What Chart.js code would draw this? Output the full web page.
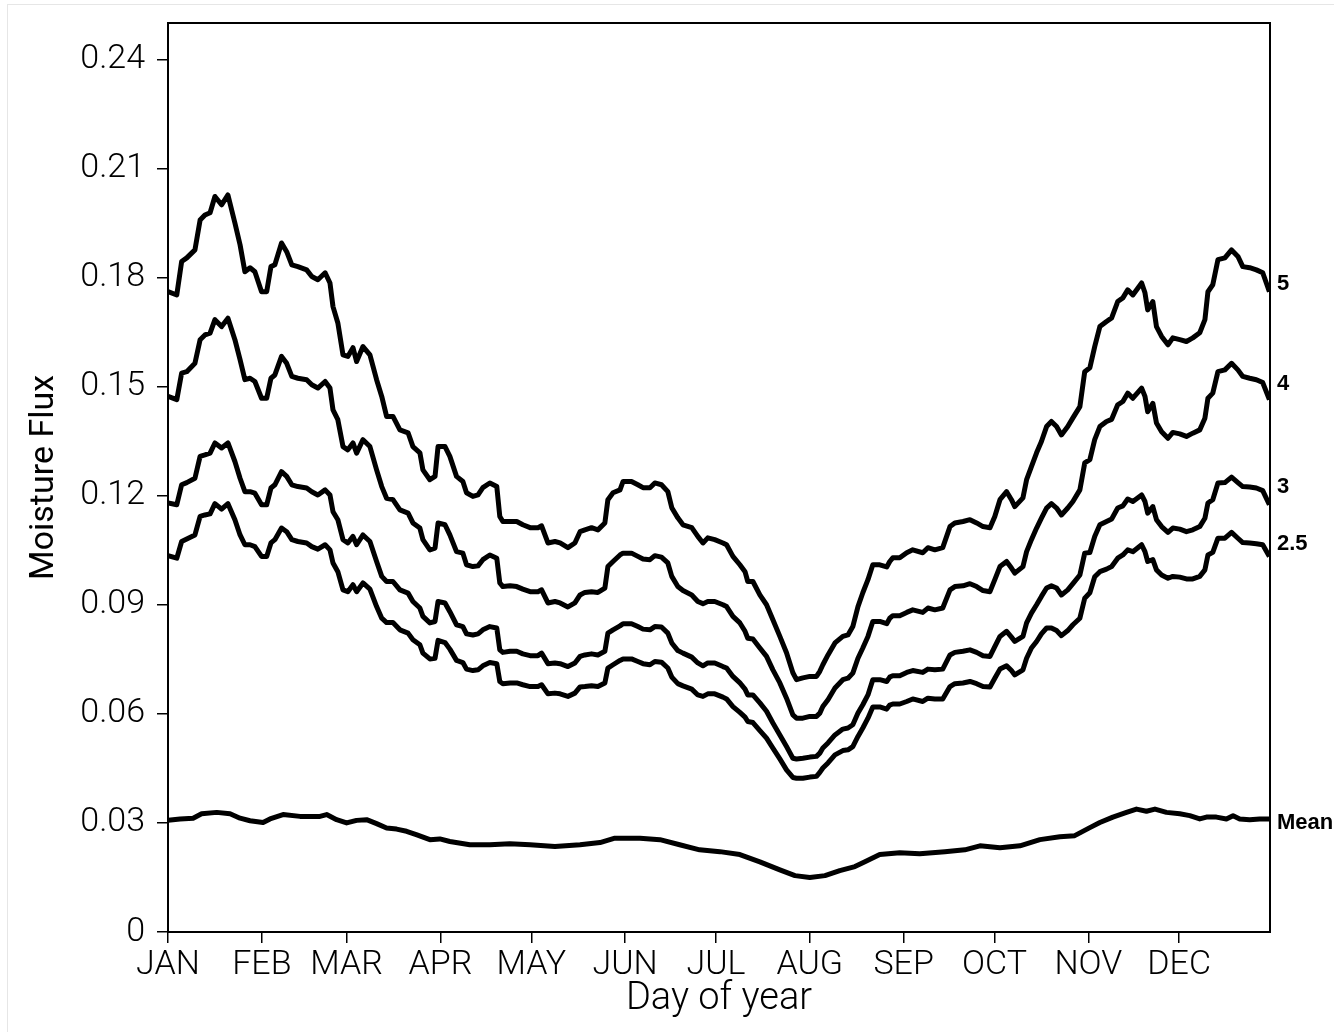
<!DOCTYPE html>
<html><head><meta charset="utf-8">
<script src="https://cdn.jsdelivr.net/npm/chart.js@4.4.1/dist/chart.umd.min.js"></script>
<style>
html,body{margin:0;padding:0;background:#fff;}
#wrap{position:relative;width:1334px;height:1032px;overflow:hidden;background:#fff;}
#frame{position:absolute;left:7px;top:4px;width:1340px;height:1040px;border-left:1px solid #e6e6e6;border-top:1px solid #e6e6e6;}
canvas{position:absolute;left:0;top:0;}
</style></head><body>
<div id="wrap"><div id="frame"></div><canvas id="c" width="1334" height="1032"></canvas></div>
<script>
// Day-of-year sample positions shared by the four upper series
const days = [1,3.9,5.5,7.2,9.9,11.6,13.2,14.9,16.5,18.7,
20.8,23.1,24.8,26.4,28.1,29.7,31.9,33.6,35.0,36.3,
38.5,40.2,41.9,43.9,46.8,48.5,50.5,52.9,54.5,55.5,
57.1,58.8,60.4,62.1,63.3,65.4,67.7,69.9,71.6,73.2,
75.3,77.6,80.3,81.9,84.2,85.2,87.5,89.2,90.2,92.5,
94.1,96.3,98.4,99.6,101.7,103.4,105.0,107.3,109.6,110.6,
111.6,114.0,116.2,118.2,120.6,123.2,124.4,126.5,128.8,130.5,
133.1,135.4,137.1,138.7,140.9,143.0,145.3,146.3,148.0,150.3,
151.3,154.1,156.2,157.9,160.2,161.8,164.0,166.1,167.4,169.4,
171.1,174.0,176.0,177.7,179.3,181.6,184.3,185.5,187.6,189.9,
191.6,192.5,194.2,196.5,198.7,200.8,203.1,205.3,207.4,208.6,
210.7,213.0,215.2,216.3,217.3,219.0,221.3,223.9,225.6,227.2,
228.9,230.5,232.2,233.8,236.1,238.4,239.4,240.4,242.7,245.0,
247.0,250.3,252.0,254.3,256.9,259.3,260.9,263.6,265.9,268.1,
270.2,272.5,274.1,275.8,278.0,279.6,280.7,283.4,284.6,286.2,
287.9,289.5,291.2,292.8,294.5,296.1,298.2,299.9,302.2,303.8,
305.5,307.1,308.8,311.0,312.7,314.7,316.4,318.0,319.7,322.6,
323.7,324.6,326.3,327.5,329.2,331.3,332.9,335.2,337.4,339.5,
341.8,343.5,344.5,346.1,347.8,350.1,352.3,354.4,356.0,358.3,
360.5,362.6,364.8];

const s5 = [0.1761,0.1752,0.1844,0.1854,0.1876,0.1958,0.1972,0.1978,0.2023,0.2000,
0.2027,0.1950,0.1890,0.1816,0.1827,0.1816,0.1761,0.1761,0.1830,0.1835,
0.1895,0.1871,0.1835,0.1830,0.1821,0.1803,0.1794,0.1813,0.1785,0.1720,
0.1675,0.1587,0.1583,0.1607,0.1569,0.1610,0.1587,0.1519,0.1473,0.1418,
0.1418,0.1381,0.1373,0.1335,0.1318,0.1271,0.1244,0.1253,0.1335,0.1335,
0.1308,0.1253,0.1239,0.1208,0.1198,0.1202,0.1222,0.1235,0.1225,0.1143,
0.1129,0.1129,0.1129,0.1120,0.1112,0.1112,0.1117,0.1070,0.1074,0.1070,
0.1057,0.1070,0.1101,0.1106,0.1112,0.1106,0.1125,0.1189,0.1208,0.1216,
0.1239,0.1239,0.1230,0.1222,0.1222,0.1235,0.1230,0.1211,0.1167,0.1139,
0.1120,0.1112,0.1088,0.1070,0.1084,0.1079,0.1070,0.1065,0.1033,0.1010,
0.0991,0.0964,0.0964,0.0927,0.0900,0.0859,0.0813,0.0768,0.0713,0.0694,
0.0699,0.0703,0.0703,0.0717,0.0735,0.0762,0.0795,0.0813,0.0817,0.0840,
0.0895,0.0933,0.0969,0.1010,0.1010,0.1004,0.1019,0.1029,0.1029,0.1043,
0.1051,0.1043,0.1057,0.1051,0.1057,0.1115,0.1125,0.1129,0.1134,0.1125,
0.1115,0.1112,0.1143,0.1189,0.1211,0.1189,0.1170,0.1194,0.1244,0.1280,
0.1318,0.1349,0.1390,0.1404,0.1390,0.1367,0.1390,0.1414,0.1445,0.1541,
0.1552,0.1610,0.1665,0.1679,0.1689,0.1734,0.1744,0.1766,0.1752,0.1785,
0.1758,0.1711,0.1734,0.1665,0.1638,0.1615,0.1634,0.1629,0.1624,0.1634,
0.1648,0.1684,0.1761,0.1780,0.1849,0.1854,0.1876,0.1858,0.1830,0.1827,
0.1821,0.1813,0.1761];

const s4 = [0.1473,0.1464,0.1537,0.1541,0.1564,0.1629,0.1642,0.1647,0.1684,0.1665,
0.1688,0.1629,0.1574,0.1519,0.1523,0.1514,0.1468,0.1468,0.1523,0.1532,
0.1583,0.1564,0.1528,0.1523,0.1519,0.1505,0.1496,0.1514,0.1496,0.1436,
0.1409,0.1335,0.1326,0.1345,0.1317,0.1354,0.1335,0.1271,0.1225,0.1193,
0.1189,0.1161,0.1152,0.1125,0.1111,0.1079,0.1051,0.1056,0.1125,0.1120,
0.1092,0.1046,0.1042,0.1010,0.1005,0.1007,0.1024,0.1037,0.1028,0.0960,
0.0950,0.0952,0.0950,0.0943,0.0936,0.0936,0.0941,0.0905,0.0909,0.0905,
0.0894,0.0905,0.0927,0.0934,0.0936,0.0934,0.0946,0.1005,0.1019,0.1037,
0.1042,0.1042,0.1033,0.1026,0.1024,0.1035,0.1031,0.1015,0.0978,0.0950,
0.0939,0.0927,0.0909,0.0903,0.0909,0.0909,0.0900,0.0895,0.0868,0.0850,
0.0827,0.0808,0.0806,0.0781,0.0758,0.0721,0.0685,0.0643,0.0597,0.0588,
0.0588,0.0593,0.0593,0.0602,0.0620,0.0639,0.0671,0.0694,0.0698,0.0712,
0.0753,0.0781,0.0813,0.0854,0.0854,0.0848,0.0863,0.0870,0.0870,0.0879,
0.0886,0.0879,0.0891,0.0886,0.0891,0.0941,0.0950,0.0952,0.0958,0.0950,
0.0939,0.0936,0.0969,0.1005,0.1019,0.1001,0.0987,0.1005,0.1046,0.1079,
0.1111,0.1138,0.1166,0.1178,0.1166,0.1147,0.1166,0.1184,0.1216,0.1290,
0.1299,0.1354,0.1390,0.1404,0.1410,0.1450,0.1459,0.1482,0.1468,0.1496,
0.1473,0.1431,0.1454,0.1400,0.1376,0.1358,0.1374,0.1370,0.1363,0.1372,
0.1381,0.1413,0.1468,0.1482,0.1541,0.1546,0.1564,0.1546,0.1528,0.1523,
0.1519,0.1511,0.1464];

const s3 = [0.1180,0.1175,0.1230,0.1236,0.1248,0.1308,0.1312,0.1317,0.1345,0.1331,
0.1345,0.1294,0.1248,0.1211,0.1211,0.1207,0.1175,0.1175,0.1221,0.1230,
0.1266,0.1253,0.1230,0.1225,0.1221,0.1211,0.1202,0.1216,0.1202,0.1156,
0.1134,0.1079,0.1070,0.1088,0.1065,0.1092,0.1074,0.1019,0.0978,0.0964,
0.0964,0.0941,0.0932,0.0909,0.0891,0.0868,0.0850,0.0854,0.0909,0.0905,
0.0881,0.0845,0.0840,0.0820,0.0817,0.0820,0.0831,0.0840,0.0836,0.0776,
0.0769,0.0772,0.0772,0.0765,0.0760,0.0760,0.0767,0.0738,0.0740,0.0738,
0.0730,0.0740,0.0758,0.0762,0.0765,0.0762,0.0772,0.0822,0.0831,0.0842,
0.0848,0.0848,0.0840,0.0833,0.0831,0.0840,0.0839,0.0822,0.0795,0.0774,
0.0767,0.0756,0.0740,0.0732,0.0740,0.0740,0.0730,0.0726,0.0703,0.0685,
0.0668,0.0652,0.0652,0.0630,0.0607,0.0575,0.0542,0.0510,0.0478,0.0476,
0.0478,0.0481,0.0483,0.0492,0.0506,0.0520,0.0542,0.0558,0.0561,0.0570,
0.0602,0.0625,0.0652,0.0694,0.0694,0.0689,0.0701,0.0705,0.0705,0.0714,
0.0719,0.0714,0.0723,0.0721,0.0723,0.0762,0.0769,0.0772,0.0776,0.0769,
0.0760,0.0758,0.0785,0.0813,0.0827,0.0811,0.0799,0.0813,0.0850,0.0877,
0.0900,0.0923,0.0946,0.0952,0.0946,0.0927,0.0941,0.0958,0.0982,0.1042,
0.1044,0.1088,0.1120,0.1129,0.1136,0.1166,0.1172,0.1191,0.1184,0.1202,
0.1184,0.1152,0.1170,0.1134,0.1115,0.1099,0.1111,0.1108,0.1101,0.1106,
0.1115,0.1138,0.1180,0.1189,0.1235,0.1236,0.1251,0.1236,0.1225,0.1224,
0.1221,0.1214,0.1175];

const s25 = [0.1035,0.1028,0.1074,0.1081,0.1092,0.1143,0.1147,0.1150,0.1178,0.1163,
0.1178,0.1134,0.1092,0.1065,0.1065,0.1060,0.1033,0.1033,0.1070,0.1079,
0.1111,0.1101,0.1079,0.1074,0.1070,0.1060,0.1053,0.1065,0.1051,0.1015,
0.0991,0.0941,0.0936,0.0955,0.0936,0.0960,0.0943,0.0895,0.0863,0.0851,
0.0851,0.0831,0.0822,0.0804,0.0790,0.0767,0.0751,0.0753,0.0802,0.0796,
0.0778,0.0747,0.0741,0.0723,0.0719,0.0721,0.0732,0.0741,0.0738,0.0689,
0.0683,0.0685,0.0685,0.0680,0.0675,0.0675,0.0680,0.0655,0.0657,0.0655,
0.0648,0.0657,0.0674,0.0675,0.0677,0.0675,0.0685,0.0726,0.0735,0.0747,
0.0751,0.0751,0.0744,0.0738,0.0735,0.0744,0.0742,0.0726,0.0701,0.0683,
0.0677,0.0668,0.0652,0.0648,0.0655,0.0655,0.0646,0.0641,0.0620,0.0604,
0.0591,0.0579,0.0576,0.0554,0.0533,0.0506,0.0476,0.0446,0.0425,0.0423,
0.0423,0.0426,0.0428,0.0439,0.0451,0.0465,0.0487,0.0499,0.0501,0.0510,
0.0538,0.0561,0.0588,0.0619,0.0619,0.0613,0.0624,0.0627,0.0627,0.0634,
0.0641,0.0634,0.0643,0.0641,0.0641,0.0675,0.0683,0.0685,0.0689,0.0683,
0.0675,0.0674,0.0698,0.0723,0.0732,0.0719,0.0707,0.0721,0.0753,0.0781,
0.0799,0.0820,0.0836,0.0836,0.0829,0.0815,0.0829,0.0845,0.0863,0.0918,
0.0933,0.0977,0.0991,0.0998,0.1005,0.1028,0.1037,0.1051,0.1046,0.1065,
0.1046,0.1019,0.1024,0.0996,0.0982,0.0973,0.0978,0.0976,0.0971,0.0971,
0.0978,0.0996,0.1037,0.1044,0.1083,0.1083,0.1099,0.1083,0.1071,0.1070,
0.1068,0.1065,0.1033];

const meanDays = [1,5,9.3,12.1,17.1,21.5,24.8,28.1,32.4,34.7,
39.0,44.6,51.2,53.4,56.7,60.0,63.3,66.6,69.9,73.2,
76.5,79.8,83.0,87.5,90.8,94.1,100.7,107.3,113.9,120.6,
128.8,137.1,143.7,148.6,156.9,163.5,170.0,176.6,183.3,189.9,
196.5,203.1,208.1,213.0,218.0,222.9,227.9,231.2,236.1,242.7,
249.3,257.6,264.2,269.2,275.8,282.4,289.0,295.6,300.5,305.5,
308.8,313.1,317.6,320.9,324.2,327.0,330.8,335.2,338.5,341.8,
344.0,347.3,350.6,352.8,355.0,358.3,361.6,364.8];
const meanVals = [0.0307,0.0311,0.0313,0.0325,0.0329,0.0325,0.0313,0.0306,0.0301,0.0311,
0.0323,0.0318,0.0318,0.0323,0.0309,0.0300,0.0307,0.0309,0.0298,0.0286,
0.0283,0.0277,0.0268,0.0254,0.0256,0.0249,0.0240,0.0240,0.0243,0.0240,
0.0235,0.0240,0.0246,0.0258,0.0258,0.0254,0.0240,0.0226,0.0221,0.0213,
0.0193,0.0171,0.0155,0.0150,0.0155,0.0169,0.0180,0.0193,0.0213,0.0218,
0.0215,0.0221,0.0226,0.0237,0.0232,0.0237,0.0254,0.0262,0.0265,0.0287,
0.0301,0.0316,0.0329,0.0338,0.0332,0.0338,0.0329,0.0325,0.0320,0.0311,
0.0316,0.0316,0.0311,0.0320,0.0311,0.0309,0.0311,0.0311];

const seriesNames = ['5','4','3','2.5','Mean'];
const monthDays = [1,32,60,91,121,152,182,213,244,274,305,335];
const monthLabels = ['JAN','FEB','MAR','APR','MAY','JUN','JUL','AUG','SEP','OCT','NOV','DEC'];
const yTicks = [0,0.03,0.06,0.09,0.12,0.15,0.18,0.21,0.24];

function pairs(xs, ys){ const n=Math.min(xs.length,ys.length); const out=[]; for(let i=0;i<n;i++) out.push({x:xs[i],y:ys[i]}); return out; }

const seriesData = [pairs(days,s5), pairs(days,s4), pairs(days,s3), pairs(days,s25), pairs(meanDays,meanVals)];

const framePlugin = {
  id:'frame',
  afterDraw(chart){
    const {ctx, chartArea:a} = chart;
    ctx.save(); ctx.strokeStyle='#000'; ctx.lineWidth=2;
    ctx.strokeRect(a.left, a.top, a.right-a.left, a.bottom-a.top);
    ctx.restore();
  }
};
const endLabelPlugin = {
  id:'endLabels',
  afterDatasetsDraw(chart){
    const ctx = chart.ctx;
    const offs = [-8,-16,-18,-12,4];
    ctx.save();
    ctx.font = 'bold 22px "Liberation Sans", Arial, sans-serif';
    ctx.fillStyle = '#000'; ctx.textBaseline='middle'; ctx.textAlign='left';
    chart.data.datasets.forEach((ds,i)=>{
      const meta = chart.getDatasetMeta(i);
      const last = meta.data[meta.data.length-1];
      ctx.fillText(ds.label, chart.chartArea.right+7, last.y+offs[i]);
    });
    ctx.restore();
  }
};

new Chart(document.getElementById('c').getContext('2d'), {
  type:'line',
  data:{ datasets: seriesData.map((d,i)=>({
    label: seriesNames[i], data:d, borderColor:'#000', borderWidth:5,
    pointRadius:0, tension:0, fill:false, borderJoinStyle:'round', borderCapStyle:'butt'
  }))},
  options:{
    responsive:false, animation:false, devicePixelRatio:1,
    layout:{padding:{top:23,right:64,left:0,bottom:0}},
    plugins:{legend:{display:false}, tooltip:{enabled:false}},
    scales:{
      x:{type:'linear', min:1, max:365,
        afterBuildTicks(s){ s.ticks = monthDays.map(v=>({value:v})); },
        afterFit(s){ s.height = 100; },
        ticks:{ color:'#000', padding:2, maxRotation:0, autoSkip:false,
          font:{family:'Roboto', weight:300, size:34},
          callback(v){ const i = monthDays.indexOf(v); return i>=0 ? monthLabels[i] : ''; } },
        grid:{display:true, drawOnChartArea:false, drawTicks:true, tickLength:11, color:'#000', lineWidth:1.5},
        border:{display:true, color:'#000', width:2},
        title:{display:true, text:'Day of year', color:'#000', padding:{top:0,bottom:10},
          font:{family:'Roboto', weight:300, size:38}}
      },
      y:{type:'linear', min:0, max:0.25,
        afterBuildTicks(s){ s.ticks = yTicks.map(v=>({value:v})); },
        afterFit(s){ s.width = 168; },
        ticks:{ color:'#000', padding:12,
          font:{family:'Roboto', weight:300, size:34, lineHeight:0.4},
          callback(v){ return v===0 ? '0' : v.toFixed(2); } },
        grid:{display:true, drawOnChartArea:false, drawTicks:true, tickLength:11, color:'#000', lineWidth:1.5},
        border:{display:true, color:'#000', width:2},
        title:{display:true, text:'Moisture Flux', color:'#000', padding:{top:24,bottom:0},
          font:{family:'Roboto', weight:400, size:34}}
      }
    }
  },
  plugins:[framePlugin, endLabelPlugin]
});
</script>
</body></html>
